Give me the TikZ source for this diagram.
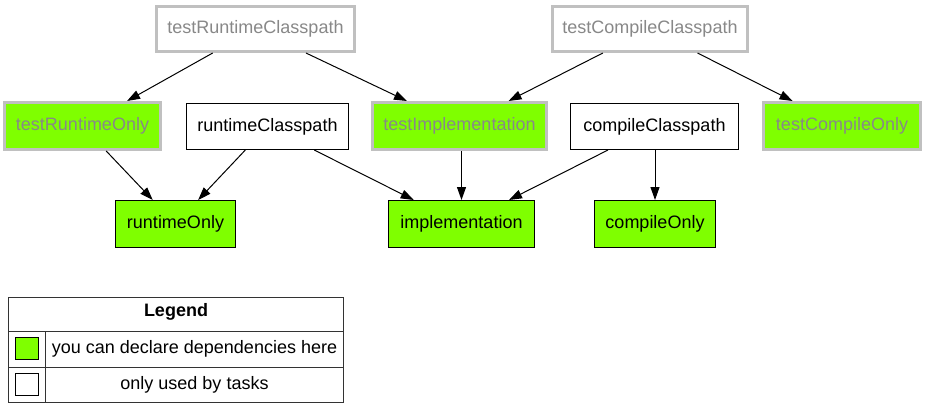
\documentclass[tikz,border=0pt]{standalone}
\usepackage{fontspec}
\setmainfont{Liberation Sans}
\usetikzlibrary{arrows.meta}
\definecolor{gborder}{RGB}{192,192,192}
\definecolor{gtext}{RGB}{136,136,136}
\definecolor{lime}{RGB}{127,255,0}
\tikzset{
  base/.style={rectangle, inner sep=0pt, font=\fontsize{18}{22}\selectfont},
  testcp/.style={base, draw=gborder, line width=3pt, text=gtext, fill=white},
  testdecl/.style={base, draw=gborder, line width=3pt, text=gtext, fill=lime},
  plaincp/.style={base, draw=black, line width=1pt, fill=white},
  decl/.style={base, draw=black, line width=1pt, fill=lime},
  edge/.style={draw=black, line width=1pt, -{Triangle[length=13pt,width=9pt]}},
  lgline/.style={draw=black!80, line width=1pt},
  lgtext/.style={font=\fontsize{18}{22}\selectfont, inner sep=0pt},
}
\begin{document}
\begin{tikzpicture}[x=1pt,y=-1pt]
\useasboundingbox (0,0) rectangle (925,408);
% top row
\node[testcp, minimum width=198pt, minimum height=45pt] (trc) at (255.5,29) {testRuntimeClasspath};
\node[testcp, minimum width=195pt, minimum height=45pt] (tcc) at (650,29) {testCompileClasspath};
% middle row
\node[testdecl, minimum width=156pt, minimum height=47pt] (tro) at (82.5,126) {testRuntimeOnly};
\node[plaincp, minimum width=162pt, minimum height=46pt] (rc) at (267.5,126.5) {runtimeClasspath};
\node[testdecl, minimum width=174pt, minimum height=47pt] (ti) at (459.5,126) {testImplementation};
\node[plaincp, minimum width=168pt, minimum height=46pt] (cc) at (654.5,126.5) {compileClasspath};
\node[testdecl, minimum width=157pt, minimum height=47pt] (tco) at (842,126) {testCompileOnly};
% bottom row
\node[decl, minimum width=120pt, minimum height=47pt] (ro) at (175.5,224) {runtimeOnly};
\node[decl, minimum width=146pt, minimum height=47pt] (impl) at (461.5,224) {implementation};
\node[decl, minimum width=121pt, minimum height=47pt] (co) at (655,224) {compileOnly};
% edges
\draw[edge] (trc) -- (tro);
\draw[edge] (trc) -- (ti);
\draw[edge] (tcc) -- (ti);
\draw[edge] (tcc) -- (tco);
\draw[edge] (tro) -- (ro);
\draw[edge] (rc) -- (ro);
\draw[edge] (rc) -- (impl);
\draw[edge] (ti.south -| impl.north) -- (impl.north);
\draw[edge] (cc) -- (impl);
\draw[edge] (cc.south -| co.north) -- (co.north);
% legend
\coordinate (lgtl) at (8.5,297.5);
\coordinate (lgbr) at (343.5,402.5);
\draw[lgline] (lgtl) rectangle (lgbr);
\coordinate (r1l) at (8.5,331.5);
\coordinate (r1r) at (343.5,331.5);
\coordinate (r2l) at (8.5,367.5);
\coordinate (r2r) at (343.5,367.5);
\coordinate (ct) at (45.5,331.5);
\coordinate (cb) at (45.5,402.5);
\draw[lgline] (r1l) -- (r1r);
\draw[lgline] (r2l) -- (r2r);
\draw[lgline] (ct) -- (cb);
\node[lgtext, font=\fontsize{18}{22}\selectfont\bfseries] (lghead) at (176,312) {Legend};
\node[decl, minimum width=23pt, minimum height=22pt] (lgg) at (26.5,348.5) {};
\node[plaincp, minimum width=23pt, minimum height=22pt] (lgw) at (26.5,384.5) {};
\node[lgtext] (lgt1) at (194.5,349) {you can declare dependencies here};
\node[lgtext] (lgt2) at (194.5,385) {only used by tasks};
\end{tikzpicture}
\end{document}
